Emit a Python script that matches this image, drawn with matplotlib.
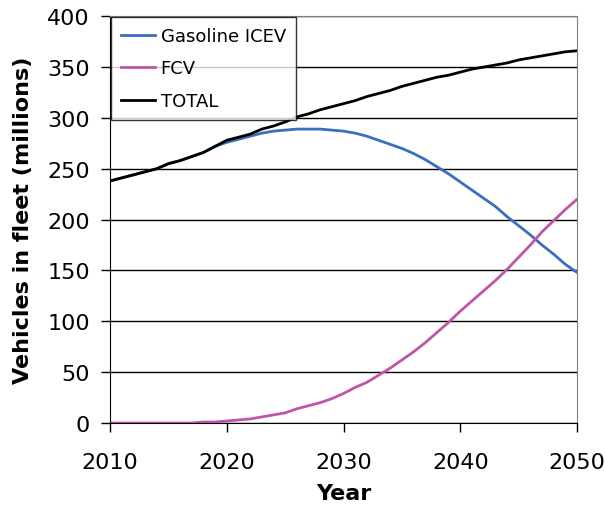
import numpy as np
import matplotlib
matplotlib.use("Agg")
import matplotlib.pyplot as plt

years = list(range(2010, 2051))

total = [238, 241, 244, 247, 250, 255, 258, 262, 266, 272,
         278, 281, 284, 289, 292, 296, 301, 304, 308, 311,
         314, 317, 321, 324, 327, 331, 334, 337, 340, 342,
         345, 348, 350, 352, 354, 357, 359, 361, 363, 365, 366]

gasoline = [238, 241, 244, 247, 250, 255, 258, 262, 266, 272,
            276, 279, 282, 285, 287, 288, 289, 289, 289, 288,
            287, 285, 282, 278, 274, 270, 265, 259, 252, 245,
            237, 229, 221, 213, 203, 194, 185, 175, 166, 156, 148]

fcv = [0, 0, 0, 0, 0, 0, 0, 0, 1, 1,
       2, 3, 4, 6, 8, 10, 14, 17, 20, 24,
       29, 35, 40, 47, 54, 62, 70, 79, 89, 99,
       110, 120, 130, 140, 151, 163, 175, 188, 199, 210, 220]

fig = plt.figure(figsize=(6.05, 5.06), dpi=100)
ax = fig.add_axes([0.1818, 0.162, 0.772, 0.804])

ax.plot(years, gasoline, color="#3a6fbf", lw=2, label="Gasoline ICEV")
ax.plot(years, fcv, color="#c055a8", lw=2, label="FCV")
ax.plot(years, total, color="black", lw=2, label="TOTAL")

ax.set_xlim(2010, 2050)
ax.set_ylim(0, 400)
ax.set_xticks(range(2010, 2051, 10))
ax.set_yticks(range(0, 401, 50))
ax.yaxis.grid(True, color="black", lw=1)
ax.set_axisbelow(True)
ax.tick_params(direction="out", length=6.5, labelsize=16, width=1)
ax.tick_params(axis="x", pad=14)
ax.tick_params(axis="y", pad=8)

for side in ("top", "right"):
    ax.spines[side].set_color("#808080")
for side in ("left", "bottom"):
    ax.spines[side].set_color("black")

ax.set_xlabel("Year", fontsize=16, fontweight="bold", labelpad=8)
ax.set_ylabel("Vehicles in fleet (millions)", fontsize=16, fontweight="bold",
              labelpad=10)

leg = ax.legend(loc="upper left", fontsize=13, frameon=True, fancybox=False,
                edgecolor="black", borderaxespad=0.05, handlelength=1.9,
                handletextpad=0.3, labelspacing=0.8, borderpad=0.55)
leg.get_frame().set_linewidth(1)

fig.savefig("out.png", dpi=100)
